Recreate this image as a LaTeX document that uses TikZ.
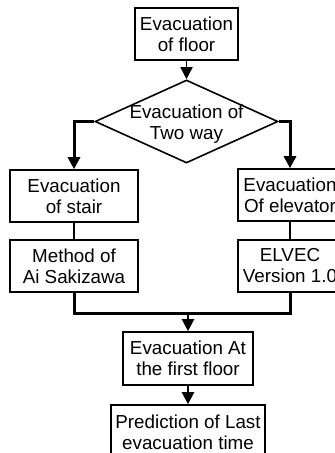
\documentclass[tikz,border=0pt]{standalone}
\usepackage{fontspec}
\setmainfont{Liberation Sans}
\usetikzlibrary{arrows.meta,shapes.geometric}
\begin{document}
\begin{tikzpicture}[x=1pt,y=-1pt,
  txt/.style={font=\fontsize{18.8}{21}\selectfont,align=center,inner sep=0pt},
  box/.style={txt,draw,line width=1.6pt},
  thinline/.style={line width=1.8pt},
  thickline/.style={line width=3pt},
  arr/.style={-{Triangle[length=12pt,width=12pt]}}]
\clip (0,0) rectangle (335,453);
\fill[white] (0,0) rectangle (335,453);
\node[box,minimum width=103pt,minimum height=52pt] (b1) at (186.5,34) {Evacuation\\of floor};
\node[draw,diamond,line width=1.6pt,minimum width=183pt,minimum height=83pt,inner sep=0pt] (dia) at (186.5,121.5) {};
\node[txt] (dt) at (186.5,124) {Evacuation of\\Two way};
\node[box,minimum width=128pt,minimum height=52pt] (stair) at (74,196) {Evacuation\\of stair};
\node[box,minimum width=128pt,minimum height=52pt] (meth) at (74,266) {Method of\\Ai Sakizawa};
\node[box,minimum width=104pt,minimum height=52pt] (elev) at (290,195) {Evacuation\\Of elevator};
\node[box,minimum width=104pt,minimum height=52pt] (elvec) at (290,266) {ELVEC\\Version 1.0};
\coordinate (m) at (188,313);
\node[box,minimum width=130pt,minimum height=53pt] (ff) at (188,358.5) {Evacuation At\\the first floor};
\node[box,minimum width=154pt,minimum height=54pt] (pred) at (188,432) {Prediction of Last\\evacuation time};
\draw[thinline,arr] (b1.south -| dia.north) -- (dia.north);
\draw[thickline,arr] (dia.west) -| (stair.north);
\draw[thickline,arr] (dia.east) -| (elev.north);
\draw[thinline] (stair) -- (meth);
\draw[thinline] (elev) -- (elvec);
\draw[thickline] (meth.south) |- (m) -| (elvec.south);
\draw[line width=2.2pt,arr] (m) -- (ff.north);
\draw[line width=2.2pt,arr] (ff) -- (pred);
\end{tikzpicture}
\end{document}
